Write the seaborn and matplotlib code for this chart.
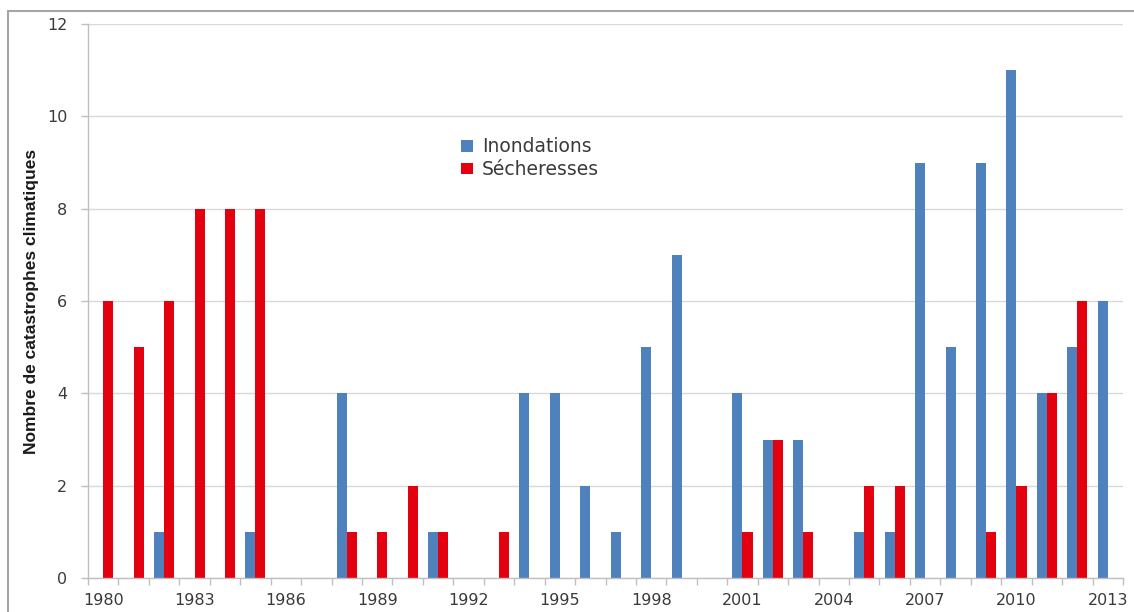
import matplotlib
matplotlib.use("Agg")
import matplotlib.pyplot as plt
from matplotlib.lines import Line2D
from matplotlib.patches import Patch
import pandas as pd
import seaborn as sns

years = list(range(1980, 2014))
inondations = [0, 0, 1, 0, 0, 1, 0, 0, 4, 0, 0, 1, 0, 0, 4, 4, 2, 1, 5, 7,
               0, 4, 3, 3, 0, 1, 1, 9, 5, 9, 11, 4, 5, 6]
secheresses = [6, 5, 6, 8, 8, 8, 0, 0, 1, 1, 2, 1, 0, 1, 0, 0, 0, 0, 0, 0,
               0, 1, 3, 1, 0, 2, 2, 0, 0, 1, 2, 4, 6, 0]
series_names = ["Inondations", "Sécheresses"]
colors = ["#4F81BD", "#E3000F"]
tick_years = years[::3]

df = pd.DataFrame({
    "annee": [str(y) for y in years] * 2,
    "type": [series_names[0]] * len(years) + [series_names[1]] * len(years),
    "valeur": inondations + secheresses,
})

sns.set_theme(style="white")
plt.rcParams["font.family"] = ["DejaVu Sans"]

fig = plt.figure(figsize=(11.34, 6.12), dpi=100)
ax = fig.add_axes([88 / 1134, 1 - 578 / 612, (1123 - 88) / 1134, (578 - 24) / 612])

sns.barplot(data=df, x="annee", y="valeur", hue="type", hue_order=series_names,
            order=[str(y) for y in years], palette=colors, width=0.66,
            linewidth=0, saturation=1, ax=ax, legend=False)

ax.set_xlim(-0.5, len(years) - 0.5)
ax.set_ylim(0, 12)
ax.set_yticks(range(0, 13, 2))
ax.yaxis.grid(True, color="#D9D9D9", linewidth=1)
ax.set_axisbelow(True)

# year labels every three categories, tick marks at category boundaries
ax.set_xticks([years.index(y) for y in tick_years])
ax.set_xticklabels([str(y) for y in tick_years])
ax.set_xticks([i - 0.5 for i in range(len(years) + 1)], minor=True)
ax.tick_params(axis="x", which="major", length=0, pad=11, labelsize=11.5,
               labelcolor="#3A3A3A")
ax.tick_params(axis="x", which="minor", length=5, width=1, color="#BFBFBF",
               direction="out", bottom=True)
ax.tick_params(axis="y", which="major", length=5, width=1, color="#BFBFBF",
               direction="out", left=True, pad=10, labelsize=11.5,
               labelcolor="#3A3A3A")

for side in ["top", "right"]:
    ax.spines[side].set_visible(False)
for side in ["left", "bottom"]:
    ax.spines[side].set_color("#BFBFBF")
    ax.spines[side].set_linewidth(1)

ax.set_xlabel("")
ax.set_ylabel("Nombre de catastrophes climatiques", fontsize=12.5,
              fontweight="bold", family=["Liberation Sans"],
              color="#1A1A1A")
ax.yaxis.set_label_coords(-0.047, 0.5)

handles = [Patch(facecolor=c, edgecolor="none") for c in colors]
fig.legend(handles, series_names, loc="upper left",
           bbox_to_anchor=(452 / 1134, 1 - 128 / 612), frameon=False,
           fontsize=13.5, handlelength=0.6, handleheight=0.6, handletextpad=0.5,
           labelspacing=0.2, labelcolor="#3A3A3A", borderpad=0)

# chart frame
frame_kw = dict(color="#A6A6A6", linewidth=1.5, transform=fig.transFigure)
fig.add_artist(Line2D([8 / 1134, 1], [1 - 11 / 612, 1 - 11 / 612], **frame_kw))
fig.add_artist(Line2D([8 / 1134, 8 / 1134], [0, 1 - 11 / 612], **frame_kw))

fig.savefig("out.png", dpi=100)
